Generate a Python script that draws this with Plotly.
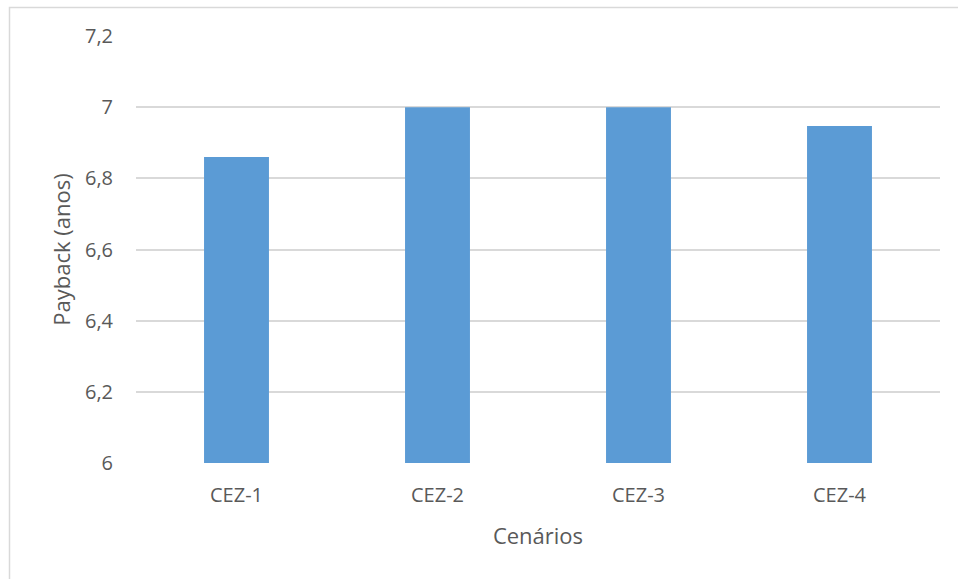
import plotly.graph_objects as go

# Payback per scenario (years)
cenarios = ["CEZ-1", "CEZ-2", "CEZ-3", "CEZ-4"]
payback = [6.86, 7.0, 7.0, 6.947]

y_ticks = [6.0, 6.2, 6.4, 6.6, 6.8, 7.0, 7.2]

W, H = 958, 579
ml, mr, mt, mb = 136, 18, 36, 116
pw, ph = W - ml - mr, H - mt - mb

font_color = "#595959"
font_family = "Open Sans, Lato, sans-serif"

fig = go.Figure(
    go.Bar(
        x=cenarios,
        y=payback,
        marker=dict(color="#5B9BD5", line=dict(width=0)),
    )
)

# Light frame around the chart area (partially cut off right and bottom)
fx0 = (9.5 - ml) / pw
fy1 = (H - mb - 7.5) / ph
fig.add_shape(
    type="rect", xref="paper", yref="paper",
    x0=fx0, x1=1.2, y0=-0.6, y1=fy1,
    line=dict(color="#d9d9d9", width=1.5),
    fillcolor="rgba(0,0,0,0)", layer="below",
)

fig.update_layout(
    width=W, height=H,
    margin=dict(l=ml, r=mr, t=mt, b=mb, pad=0),
    paper_bgcolor="white",
    plot_bgcolor="white",
    separators=",.",
    bargap=0.677,
    showlegend=False,
    font=dict(family=font_family, color=font_color, size=20),
)

fig.update_xaxes(
    title=dict(text="Cenários", font=dict(size=22, color=font_color), standoff=21),
    showgrid=False, showline=False, zeroline=False,
    ticks="", tickfont=dict(size=20, color=font_color),
    ticklabelstandoff=18,
)

fig.update_yaxes(
    title=dict(text="Payback (anos)", font=dict(size=22, color=font_color), standoff=8),
    range=[6, 7.2],
    tickvals=y_ticks,
    showgrid=True, gridcolor="#d9d9d9", gridwidth=1.6,
    showline=False, zeroline=False,
    ticks="", tickfont=dict(size=20, color=font_color),
    ticklabelstandoff=22,
)

fig.write_html("out.html")
